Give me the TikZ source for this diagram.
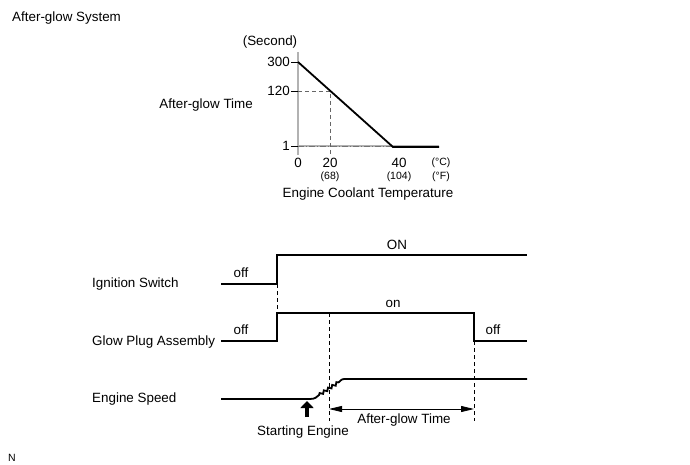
\documentclass[tikz,border=0pt]{standalone}
\usepackage{fontspec}
\setmainfont{Liberation Sans}
\usetikzlibrary{arrows.meta,decorations.pathmorphing}

\tikzset{
	lbl/.style={font=\fontsize{13.4}{15}\selectfont, inner sep=0pt, text height=9.6pt, text depth=0pt},
	sml/.style={font=\fontsize{10.5}{12}\selectfont, inner sep=0pt, text height=7.5pt, text depth=0pt},
	sig/.style={line width=1.8pt},
	guide/.style={dash pattern=on 4pt off 3pt, line width=0.7pt},
	axisline/.style={gray!60, line width=1.2pt},
}

\begin{document}
\begin{tikzpicture}[x=1pt, y=-1pt]
		\useasboundingbox (0,0) rectangle (690,465);
		\node[lbl, anchor=west] (title) at (12,17) {After-glow System};
		\node[sml, anchor=west] (north) at (8,458) {N};
		% graph
		\node[lbl] (unit) at (270,41) {(Second)};
		\node[lbl, anchor=east] (ylabel) at (253,104) {After-glow Time};
		\draw[axisline] (298,52) -- (298,155);
		\draw[axisline] (298,146) -- (439,146);
		\draw[gray!90!black, dash pattern=on 6pt off 2pt on 1pt off 2pt, line width=0.6pt] (298,146) -- (393,146);
		\foreach \v/\y in {300/62, 120/91, 1/146}
		{
			\node[lbl, anchor=east] (tick\v) at (290,\y) {\v};
			\draw[line width=0.6pt] (291,\y) -- (298,\y);
		}
		\draw[guide, gray!80!black] (298,91) -- (330,91) -- (330,155);
		\draw[sig] (298,62) -- (393,147) -- (439,147);
		\foreach \t/\x in {0/298, 20/330, 40/399}
			\node[lbl] (temp\t) at (\x,163) {\t};
		\node[sml] (f68) at (330,176) {(68)};
		\node[sml] (f104) at (399,176) {(104)};
		\node[sml] (degc) at (441,162) {(°C)};
		\node[sml] (degf) at (441,176) {(°F)};
		\node[lbl] (xlabel) at (368,193) {Engine Coolant Temperature};
		% timing chart
		\foreach \n/\y/\s in {ig/283/Ignition Switch, gp/341/Glow Plug Assembly, es/398/Engine Speed}
			\node[lbl, anchor=west] (\n) at (92,\y) {\s};
		\draw[sig] (221,284) -- (277,284) -- (277,255) -- (527,255);
		\draw[sig] (221,341) -- (277,341) -- (277,313) -- (474,313) -- (474,341) -- (527,341);
		\draw[sig] (221,399) -- (310,399) .. controls (315,399) and (317,397) .. (319,395)
			decorate[decoration={snake, segment length=5pt, amplitude=1.3pt}] {-- (339,382)}
			.. controls (342,379) .. (347,379) -- (527,379);
		\node[lbl] (igoff) at (241,273) {off};
		\node[lbl] (igon) at (397,245) {ON};
		\node[lbl] (gpoff) at (241,330) {off};
		\node[lbl] (gpon) at (393,303) {on};
		\node[lbl] (gpoff2) at (493,330) {off};
		\draw[guide] (277,284) -- (277,313);
		\draw[guide] (329,313) -- (329,421);
		\draw[guide] (474,341) -- (474,421);
		\coordinate (agstart) at (329,409);
		\coordinate (agend) at (474,409);
		\draw[line width=0.8pt, {Stealth[length=13pt, width=6pt, inset=0pt]}-{Stealth[length=13pt, width=6pt, inset=0pt]}] (agstart) -- (agend);
		\node[lbl] (agtime) at (404,419) {After-glow Time};
		\coordinate (pushlow) at (307,417);
		\coordinate (pushtop) at (307,401);
		\draw[line width=4pt, -{Triangle[length=7pt, width=13pt]}] (pushlow) -- (pushtop);
		\node[lbl] (start) at (303,431) {Starting Engine};
	\end{tikzpicture}
\end{document}
